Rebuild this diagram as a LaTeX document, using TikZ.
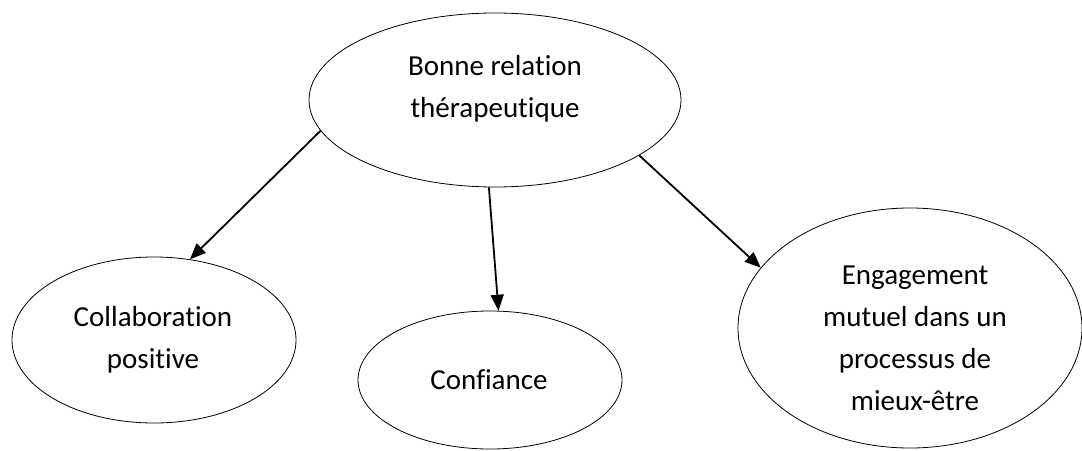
\documentclass[tikz,border=0pt]{standalone}
\usepackage{fontspec}
\setmainfont[Ligatures={NoCommon}]{Carlito}
\usetikzlibrary{shapes.geometric,arrows.meta}
\begin{document}
\begin{tikzpicture}[x=1pt,y=-1pt,
  bubble/.style={draw=black,line width=0.8pt,ellipse,inner sep=0pt},
  lbl/.style={align=center,font=\fontsize{29}{42}\selectfont,inner sep=0pt},
  arr/.style={line width=1.8pt,-{Triangle[length=16pt,width=13pt]}}]
\useasboundingbox (0,0) rectangle (1082,450);
\node[bubble,minimum width=372pt,minimum height=174pt] (top) at (495,100) {};
\node[bubble,minimum width=284pt,minimum height=166pt] (left) at (154,340) {};
\node[bubble,minimum width=264pt,minimum height=138pt] (mid) at (490,380) {};
\node[bubble,minimum width=344pt,minimum height=240pt] (right) at (910,328) {};
\node[lbl] (ttop) at (495,89) {Bonne relation\\thérapeutique};
\node[lbl] (tleft) at (153,340) {Collaboration\\positive};
\node[lbl] (tmid) at (489,380) {Confiance};
\node[lbl] (tright) at (915,338) {Engagement\\mutuel dans un\\processus de\\mieux-être};
\draw[arr] (top.190.2) -- (left.66.6);
\draw[arr] (top.266.1) -- (mid.83.5);
\draw[arr] (top.339.6) -- (right.158.9);
\end{tikzpicture}
\end{document}
